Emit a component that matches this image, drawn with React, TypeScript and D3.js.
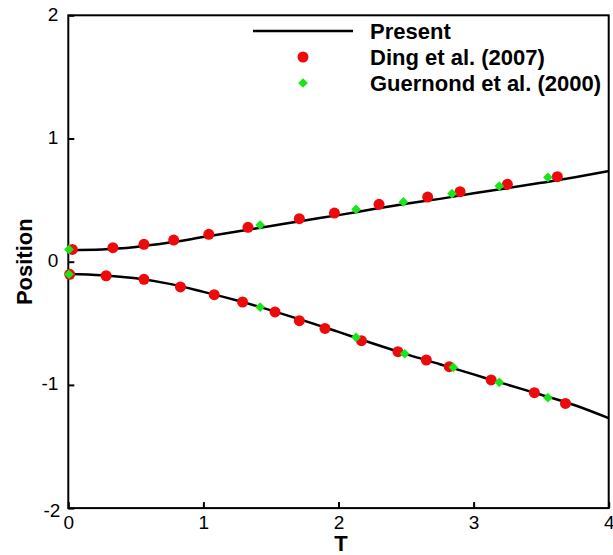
import React, { useRef, useEffect } from 'react';
import * as d3 from 'd3';

// Present (solid line) sampled along T
const presentT = [0, 0.25, 0.5, 0.75, 1.0, 1.25, 1.5, 1.75, 2.0, 2.25, 2.5, 2.75, 3.0, 3.25, 3.5, 3.75, 4.0];
const presentUpper = [0.095, 0.1, 0.12, 0.155, 0.2, 0.245, 0.29, 0.335, 0.378, 0.425, 0.47, 0.51, 0.555, 0.597, 0.64, 0.685, 0.735];
const presentLower = [-0.1, -0.11, -0.135, -0.18, -0.245, -0.315, -0.395, -0.48, -0.57, -0.662, -0.75, -0.832, -0.915, -0.998, -1.08, -1.165, -1.27];

// Ding et al. (2007)
const dingUpperT = [0.03, 0.33, 0.56, 0.78, 1.04, 1.33, 1.71, 1.97, 2.3, 2.66, 2.9, 3.25, 3.62];
const dingUpperY = [0.1, 0.114, 0.141, 0.176, 0.222, 0.279, 0.349, 0.395, 0.466, 0.525, 0.568, 0.628, 0.69];
const dingLowerT = [0.01, 0.28, 0.56, 0.83, 1.08, 1.29, 1.53, 1.71, 1.9, 2.17, 2.44, 2.65, 2.82, 3.13, 3.45, 3.68];
const dingLowerY = [-0.102, -0.114, -0.143, -0.205, -0.268, -0.327, -0.408, -0.479, -0.542, -0.641, -0.73, -0.798, -0.852, -0.96, -1.063, -1.15];

// Guernond et al. (2000)
const guerUpperT = [0.005, 1.42, 2.13, 2.48, 2.84, 3.19, 3.55];
const guerUpperY = [0.1, 0.298, 0.425, 0.485, 0.552, 0.614, 0.685];
const guerLowerT = [0.005, 1.42, 2.13, 2.49, 2.85, 3.19, 3.55];
const guerLowerY = [-0.102, -0.368, -0.614, -0.747, -0.857, -0.979, -1.104];

const xTicks = [0, 1, 2, 3, 4];
const yTicks = [-2, -1, 0, 1, 2];
const legendLabels = ['Present', 'Ding et al. (2007)', 'Guernond et al. (2000)'];

const RED = '#ee0a0a';
const GREEN = '#19e619';
const FONT = '"Liberation Sans", Arial, sans-serif';

const zip = (a: number[], b: number[]): [number, number][] => a.map((v, i) => [v, b[i]]);

const App = () => {
  const svgRef = useRef<SVGSVGElement>(null);
  const width = 613;
  const height = 555;

  useEffect(() => {
    const margin = { top: 15.3, right: 4.3, bottom: 46.9, left: 68.3 };
    const innerWidth = width - margin.left - margin.right;
    const innerHeight = height - margin.top - margin.bottom;

    const svg = d3.select(svgRef.current).html('');
    svg.append('rect').attr('width', width).attr('height', height).attr('fill', '#fff');
    const g = svg.append('g').attr('transform', `translate(${margin.left},${margin.top})`);

    const x = d3.scaleLinear().domain([0, 4]).range([0, innerWidth]);
    const y = d3.scaleLinear().domain([-2, 2]).range([innerHeight, 0]);

    // ticks point into the plot, plain hyphen for negatives
    const fmt = (d: any) => String(d);
    const xAxis = g.append('g')
      .attr('transform', `translate(0,${innerHeight})`)
      .call(d3.axisBottom(x).tickValues(xTicks).tickSize(-6).tickPadding(7).tickFormat(fmt));
    const yAxis = g.append('g')
      .call(d3.axisLeft(y).tickValues(yTicks).tickSize(-6).tickPadding(10).tickFormat(fmt));

    [xAxis, yAxis].forEach(ax => {
      ax.select('.domain').remove();
      ax.selectAll('line').attr('stroke', '#000').attr('stroke-width', 2);
      ax.selectAll('text')
        .attr('fill', '#000')
        .style('font-family', FONT)
        .style('font-size', '19px');
    });
    yAxis.selectAll('text').attr('dy', '0.25em');
    yAxis.selectAll('text').filter((d: any) => d === -2).attr('dy', '0.42em').attr('x', -8);

    // frame
    g.append('rect')
      .attr('width', innerWidth)
      .attr('height', innerHeight)
      .attr('fill', 'none')
      .attr('stroke', '#000')
      .attr('stroke-width', 2);

    // Present lines
    const line = d3.line<[number, number]>()
      .x(d => x(d[0]))
      .y(d => y(d[1]))
      .curve(d3.curveMonotoneX);
    [presentUpper, presentLower].forEach(vals => {
      g.append('path')
        .datum(zip(presentT, vals))
        .attr('fill', 'none')
        .attr('stroke', '#000')
        .attr('stroke-width', 2.5)
        .attr('d', line);
    });

    const diamond = d3.symbol().type(d3.symbolDiamond2).size(60);

    // Ding markers
    [zip(dingUpperT, dingUpperY), zip(dingLowerT, dingLowerY)].forEach(pts => {
      g.append('g').selectAll('circle').data(pts).join('circle')
        .attr('cx', d => x(d[0]))
        .attr('cy', d => y(d[1]))
        .attr('r', 5.5)
        .attr('fill', RED);
    });

    // Guernond markers
    [zip(guerUpperT, guerUpperY), zip(guerLowerT, guerLowerY)].forEach(pts => {
      g.append('g').selectAll('path').data(pts).join('path')
        .attr('transform', d => `translate(${x(d[0])},${y(d[1])})`)
        .attr('d', diamond)
        .attr('fill', GREEN);
    });

    // axis titles
    svg.append('text')
      .attr('x', 341)
      .attr('y', 551)
      .attr('text-anchor', 'middle')
      .style('font-family', FONT)
      .style('font-weight', 'bold')
      .style('font-size', '22px')
      .text('T');
    svg.append('text')
      .attr('transform', `translate(32,${margin.top + innerHeight / 2}) rotate(-90)`)
      .attr('text-anchor', 'middle')
      .style('font-family', FONT)
      .style('font-weight', 'bold')
      .style('font-size', '22px')
      .text('Position');

    // legend
    const legend = svg.append('g');
    const rowY = [31, 57, 83];
    legend.append('line')
      .attr('x1', 253).attr('x2', 353)
      .attr('y1', rowY[0]).attr('y2', rowY[0])
      .attr('stroke', '#000').attr('stroke-width', 2.5);
    legend.append('circle').attr('cx', 303).attr('cy', rowY[1]).attr('r', 5.5).attr('fill', RED);
    legend.append('path')
      .attr('transform', `translate(303,${rowY[2]})`)
      .attr('d', diamond)
      .attr('fill', GREEN);
    legendLabels.forEach((label, i) => {
      legend.append('text')
        .attr('x', 370)
        .attr('y', rowY[i])
        .attr('dy', '0.36em')
        .style('font-family', FONT)
        .style('font-weight', 'bold')
        .style('font-size', '22px')
        .text(label);
    });
  }, []);

  return (
    <svg
      ref={svgRef}
      width={width}
      height={height}
      style={{ position: 'absolute', left: 0, top: 0 }}
    />
  );
};

export default App;
